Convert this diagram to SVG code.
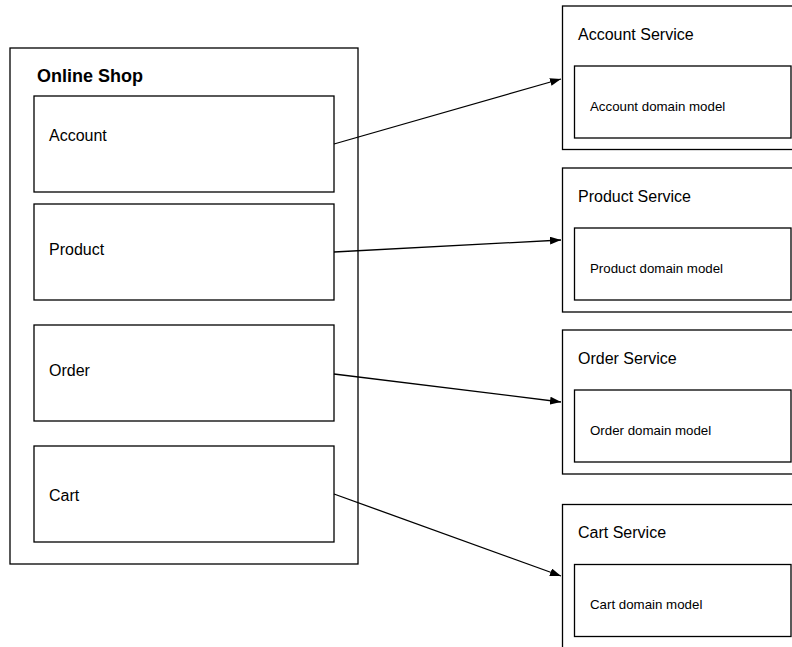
<svg xmlns="http://www.w3.org/2000/svg" width="792" height="647" viewBox="0 0 792 647">
<style>
.box{fill:#fff;stroke:#000;stroke-width:1.3}
.t{font-family:"Liberation Sans",Arial,sans-serif;font-size:16px;fill:#000}
.s{font-family:"Liberation Sans",Arial,sans-serif;font-size:13.3px;fill:#000}
.b{font-family:"Liberation Sans",Arial,sans-serif;font-size:18px;font-weight:bold;fill:#000}
.c{stroke:#000;stroke-width:1.3;fill:none;marker-end:url(#ah)}
</style>
<defs>
<marker id="ah" markerWidth="11" markerHeight="8" refX="11" refY="4" orient="auto" markerUnits="userSpaceOnUse">
<path d="M0,0 L11,4 L0,8 Z" fill="#000"/>
</marker>
</defs>
<rect width="792" height="647" fill="#fff"/>
<g id="online-shop">
<rect class="box" x="10" y="48" width="348" height="516"/>
<text class="b" x="37" y="82">Online Shop</text>
</g>
<g id="account">
<rect class="box" x="34" y="96" width="300" height="96"/>
<text class="t" x="49" y="141">Account</text>
</g>
<g id="product">
<rect class="box" x="34" y="204" width="300" height="96"/>
<text class="t" x="49" y="255">Product</text>
</g>
<g id="order">
<rect class="box" x="34" y="325" width="300" height="96"/>
<text class="t" x="49" y="376">Order</text>
</g>
<g id="cart">
<rect class="box" x="34" y="446" width="300" height="96"/>
<text class="t" x="49" y="501">Cart</text>
</g>
<g id="account-service">
<rect class="box" x="562.5" y="6" width="240" height="143.5"/>
<text class="t" x="578" y="40">Account Service</text>
<rect class="box" x="574.5" y="66" width="216.5" height="72"/>
<text class="s" x="590" y="111">Account domain model</text>
</g>
<g id="product-service">
<rect class="box" x="562.5" y="168" width="240" height="144"/>
<text class="t" x="578" y="202">Product Service</text>
<rect class="box" x="574.5" y="228" width="216.5" height="72"/>
<text class="s" x="590" y="273">Product domain model</text>
</g>
<g id="order-service">
<rect class="box" x="562.5" y="330" width="240" height="144"/>
<text class="t" x="578" y="364">Order Service</text>
<rect class="box" x="574.5" y="390" width="216.5" height="72"/>
<text class="s" x="590" y="435">Order domain model</text>
</g>
<g id="cart-service">
<rect class="box" x="562.5" y="504.5" width="240" height="160"/>
<text class="t" x="578" y="538">Cart Service</text>
<rect class="box" x="574.5" y="564.5" width="216.5" height="72"/>
<text class="s" x="590" y="609">Cart domain model</text>
</g>
<g id="connectors">
<path class="c" d="M334,144 L561,79"/>
<path class="c" d="M334,252 L561,240"/>
<path class="c" d="M334,374 L561,402"/>
<path class="c" d="M334,494 L561,576"/>
</g>
</svg>
